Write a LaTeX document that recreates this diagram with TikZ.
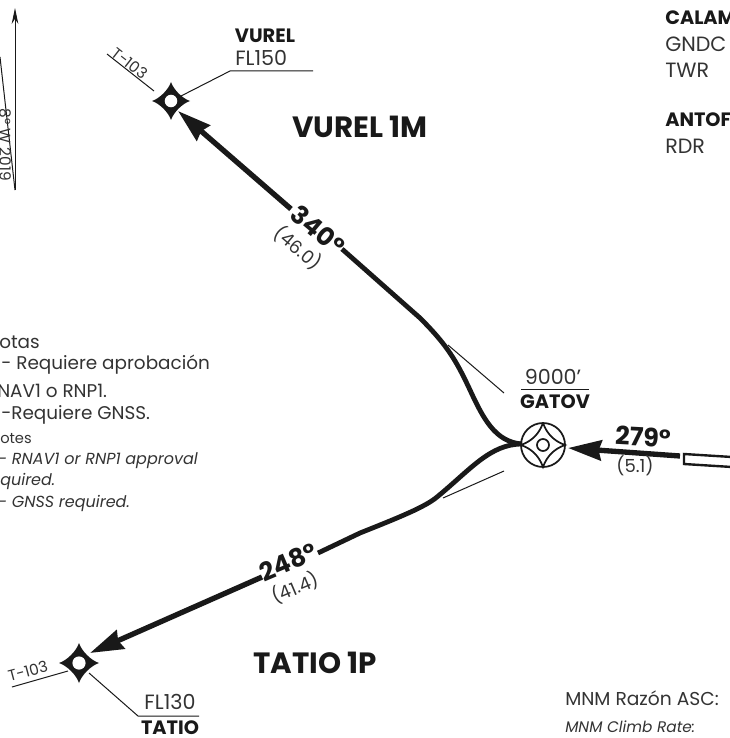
\documentclass[tikz,border=0pt]{standalone}
\usepackage{fontspec}
\setmainfont{Poppins}
\usetikzlibrary{arrows.meta, calc}
\tikzset{
  route/.style={line width=3.6pt, draw=black!90},
  routearrow/.style={line width=4pt, draw=black!90, -{Stealth[length=25pt, width=15pt, inset=2pt]}},
  leader/.style={line width=.75pt, draw=black!90},
  big/.style={font=\fontsize{22}{22}\selectfont\bfseries, text=black!90, inner sep=0pt},
  course/.style={font=\fontsize{19}{19}\selectfont\bfseries, text=black!90, inner sep=0pt},
  dist/.style={font=\fontsize{13.5}{13.5}\selectfont, text=black!80, inner sep=0pt},
  airway/.style={font=\fontsize{11.5}{11.5}\selectfont, text=black!80, inner sep=0pt},
  fixname/.style={font=\fontsize{14.5}{14.5}\selectfont\bfseries, text=black!90, inner sep=0pt},
  fixalt/.style={font=\fontsize{15.5}{15.5}\selectfont, text=black!80, inner sep=0pt},
  note/.style={font=\fontsize{13.8}{13.8}\selectfont, text=black!80, inner sep=0pt, anchor=west},
  noteen/.style={font=\fontsize{12}{12}\selectfont\itshape, text=black!80, inner sep=0pt, anchor=west},
}
\newcommand{\fixstar}[2]{\fill[black!90, shift={(#1)}] (0,-#2) .. controls (.13*#2,-.6*#2) and (.6*#2,-.13*#2) .. (#2,0) .. controls (.6*#2,.13*#2) and (.13*#2,.6*#2) .. (0,#2) .. controls (-.13*#2,.6*#2) and (-.6*#2,.13*#2) .. (-#2,0) .. controls (-.6*#2,-.13*#2) and (-.13*#2,-.6*#2) .. (0,-#2);
\fill[white, shift={(#1)}] (0,0) circle (.33*#2);}
\begin{document}
\begin{tikzpicture}[x=.75pt, y=-.75pt]
\useasboundingbox (0,0) rectangle (730,738);
% fixes
\coordinate (vurel) at (171,101);
\coordinate (tatio) at (79,663);
\coordinate (gatov) at (543,445);
\fixstar{vurel}{19}
\fixstar{tatio}{20}
\node[circle, draw=black!90, line width=1.3pt, minimum size=33pt, inner sep=0pt] (gatovring) at (gatov) {};
\draw[black!90, line width=1.3pt] ($(gatov)+(0,-22)$) .. controls ($(gatov)+(4,-11)$) and ($(gatov)+(11,-4)$) .. ($(gatov)+(22,0)$) .. controls ($(gatov)+(11,4)$) and ($(gatov)+(4,11)$) .. ($(gatov)+(0,22)$) .. controls ($(gatov)+(-4,11)$) and ($(gatov)+(-11,4)$) .. ($(gatov)+(-22,0)$) .. controls ($(gatov)+(-11,-4)$) and ($(gatov)+(-4,-11)$) .. ($(gatov)+(0,-22)$);
\draw[black!90, line width=1.3pt] (gatov) circle (6);
% routes
\coordinate (vurelend) at (178,111);
\coordinate (tatioend) at (90,653);
\coordinate (gatovend) at (568,448);
\draw[routearrow] (291,209) -- (vurelend);
\draw[route] (342,249) -- (420,318) .. controls (447,345) and (456,360) .. (470,390) .. controls (483,418) and (495,442) .. (522,444);
\draw[route] (522,444) .. controls (490,444) and (470,470) .. (437,497) .. controls (425,507) and (400,517) .. (360,533) -- (318,553);
\draw[routearrow] (262,577) -- (tatioend);
\draw[routearrow] (680,456) -- (gatovend);
\draw[line width=1.8pt, draw=black!90] (684,454) -- (732,457) -- (732,467) -- (684,464) -- cycle;
% leaders
\draw[leader] (107,54) -- (154,91);
\draw[leader] (181,96) -- (230,71) -- (313,71);
\draw[leader] (12,687) -- (68,671);
\draw[leader] (89,673) -- (138,716) -- (199,716);
\draw[leader] (448,345) -- (504,393);
\draw[leader] (443,498) -- (504,471);
\draw[leader] (521,389) -- (589,389);
% north arrow
\draw[leader, -{Stealth[length=12pt, width=5pt]}] (15,190) -- (15,8);
\draw[leader] (0,57) -- (15,190);
\node[airway, font=\fontsize{11.5}{11.5}\selectfont, rotate=-90, anchor=south east] (varlabel) at (-1,181) {8° W 2019};
% labels
\node[fixname] (vurelname) at (265,36) {VUREL};
\node[fixalt, anchor=west] (vurelalt) at (235,58) {FL150};
\node[big] (vurelproc) at (360,127) {VUREL 1M};
\node[big] (tatioproc) at (315,663) {TATIO 1P};
\node[fixalt] (tatioalt) at (170,702) {FL130};
\node[fixname] (tationame) at (170,728) {TATIO};
\node[fixalt] (gatovalt) at (553,377) {9000'};
\node[fixname] (gatovname) at (555,402) {GATOV};
\node[course, rotate=-40] (crsvurel) at (318,230) {340°};
\node[dist, rotate=-40] (distvurel) at (298,248) {(46.0)};
\node[course, rotate=23] (crstatio) at (288,562) {248°};
\node[dist, rotate=23] (disttatio) at (295,588) {(41.4)};
\node[course, rotate=-3] (crsgatov) at (643,437) {279°};
\node[dist] (distgatov) at (635,466) {(5.1)};
\node[airway, rotate=-38] (airwayvurel) at (130,63) {T-103};
\node[airway, rotate=15] (airwaytatio) at (28,671) {T-103};
% notes
\node[note] (notees) at (-1,342) {otas};
\node[note] (reqa) at (1,365) {-  Requiere aprobación};
\node[note] (reqb) at (-3,391) {NAV1 o RNP1.};
\node[note] (reqc) at (1,415) {-Requiere GNSS.};
\node[noteen, font=\fontsize{11}{11}\selectfont] (noteen) at (0,439) {otes};
\node[noteen] (reqd) at (-2,461) {- RNAV1 or RNP1 approval};
\node[noteen] (reqe) at (0,481) {quired.};
\node[noteen] (reqf) at (-2,503) {- GNSS required.};
% frequencies
\node[fixname, anchor=west] (cala) at (665,18) {CALAM};
\node[fixalt, anchor=west] (gndc) at (665,44) {GNDC};
\node[fixalt, anchor=west] (twr) at (665,70) {TWR};
\node[fixname, anchor=west] (anto) at (665,120) {ANTOF};
\node[fixalt, anchor=west] (rdr) at (665,146) {RDR};
\node[note, font=\fontsize{14}{14}\selectfont] (mnmes) at (565,698) {MNM Razón ASC:};
\node[noteen, font=\fontsize{11.5}{11.5}\selectfont\itshape] (mnmen) at (565,727) {MNM Climb Rate:};
\end{tikzpicture}
\end{document}
